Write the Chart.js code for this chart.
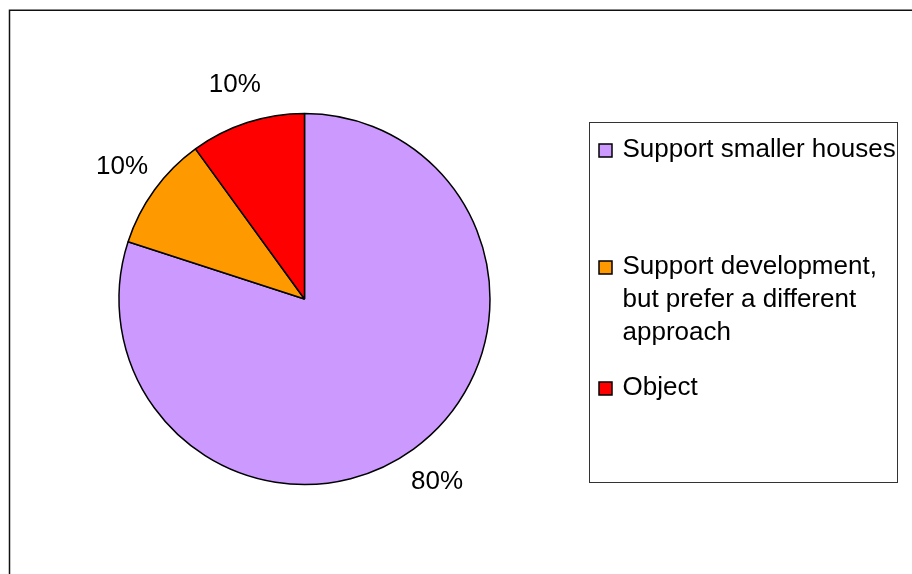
<!DOCTYPE html>
<html>
<head>
<meta charset="utf-8">
<script src="https://cdn.jsdelivr.net/npm/chart.js@4/dist/chart.umd.min.js"></script>
<style>
  html, body { margin: 0; padding: 0; background: #fff; overflow: hidden; }
  canvas { display: block; }
</style>
</head>
<body>
<canvas id="opinionPie" width="912" height="574"></canvas>
<script>
// Responses, in drawing order (clockwise from 12 o'clock)
const categories = [
    'Support smaller houses',
    'Support development, but prefer a different approach',
    'Object'
];
const responses = [80, 10, 10];
const sliceColors = ['#CC99FF', '#FF9900', '#FF0000'];

const FONT = '26px "Liberation Sans", Arial, sans-serif';

// Legend box and row placement (text centre of each entry's first line)
const LEGEND_BOX = { x: 589.5, y: 122.5, w: 308, h: 360 };
const LEGEND_ROWS = [150, 267, 388];
const LEGEND_LINE = 33;

// Frame around the whole chart area (only the top and left edges are on the page)
const framePlugin = {
    id: 'frame',
    beforeDraw(chart) {
        const ctx = chart.ctx;
        ctx.save();
        ctx.strokeStyle = '#111';
        ctx.lineWidth = 1.5;
        ctx.beginPath();
        ctx.moveTo(9.5, chart.height);
        ctx.lineTo(9.5, 10.2);
        ctx.lineTo(chart.width, 10.2);
        ctx.stroke();
        ctx.restore();
    }
};

// Percent labels just outside each slice
const outsideLabels = {
    id: 'outsideLabels',
    afterDatasetsDraw(chart) {
        const ctx = chart.ctx;
        const meta = chart.getDatasetMeta(0);
        const values = chart.data.datasets[0].data;
        const total = values.reduce((a, b) => a + b, 0);
        ctx.save();
        ctx.font = FONT;
        ctx.fillStyle = '#000';
        ctx.textAlign = 'center';
        ctx.textBaseline = 'middle';
        meta.data.forEach((arc, i) => {
            const p = arc.getProps(['x', 'y', 'startAngle', 'endAngle', 'outerRadius'], true);
            const mid = (p.startAngle + p.endAngle) / 2;
            const dist = p.outerRadius + 40;
            const pct = Math.round(values[i] / total * 100) + '%';
            ctx.fillText(pct, p.x + Math.cos(mid) * dist, p.y + Math.sin(mid) * dist);
        });
        ctx.restore();
    }
};

// Split a label into lines no wider than maxWidth
function wrapText(ctx, text, maxWidth) {
    const words = text.split(' ');
    const lines = [];
    let line = '';
    words.forEach(w => {
        const test = line ? line + ' ' + w : w;
        if (line && ctx.measureText(test).width > maxWidth) {
            lines.push(line);
            line = w;
        } else {
            line = test;
        }
    });
    if (line) lines.push(line);
    return lines;
}

// Boxed legend on the right
const boxLegend = {
    id: 'boxLegend',
    afterDraw(chart) {
        const ctx = chart.ctx;
        const labels = chart.data.labels;
        const colors = chart.data.datasets[0].backgroundColor;
        ctx.save();
        ctx.strokeStyle = '#333';
        ctx.lineWidth = 1;
        ctx.strokeRect(LEGEND_BOX.x, LEGEND_BOX.y, LEGEND_BOX.w, LEGEND_BOX.h);

        ctx.font = FONT;
        ctx.textAlign = 'left';
        ctx.textBaseline = 'middle';
        const textX = 622.5;
        const maxW = LEGEND_BOX.x + LEGEND_BOX.w - textX + 2;
        labels.forEach((label, i) => {
            const y = LEGEND_ROWS[i];
            ctx.fillStyle = colors[i];
            ctx.fillRect(599, y - 6, 13, 13);
            ctx.strokeStyle = '#000';
            ctx.lineWidth = 1.5;
            ctx.strokeRect(599, y - 6, 13, 13);
            ctx.fillStyle = '#000';
            wrapText(ctx, label, maxW).forEach((ln, j) => {
                ctx.fillText(ln, textX, y + j * LEGEND_LINE);
            });
        });
        ctx.restore();
    }
};

new Chart(document.getElementById('opinionPie'), {
    type: 'pie',
    data: {
        labels: categories,
        datasets: [{
            data: responses,
            backgroundColor: sliceColors,
            borderColor: '#000',
            borderWidth: 1.5,
            hoverOffset: 0
        }]
    },
    options: {
        responsive: false,
        animation: false,
        radius: 185.5,
        layout: { padding: { left: 0, right: 303, top: 24, bottom: 0 } },
        plugins: {
            legend: { display: false },
            tooltip: { enabled: false }
        },
        events: []
    },
    plugins: [framePlugin, outsideLabels, boxLegend]
});
</script>
</body>
</html>
